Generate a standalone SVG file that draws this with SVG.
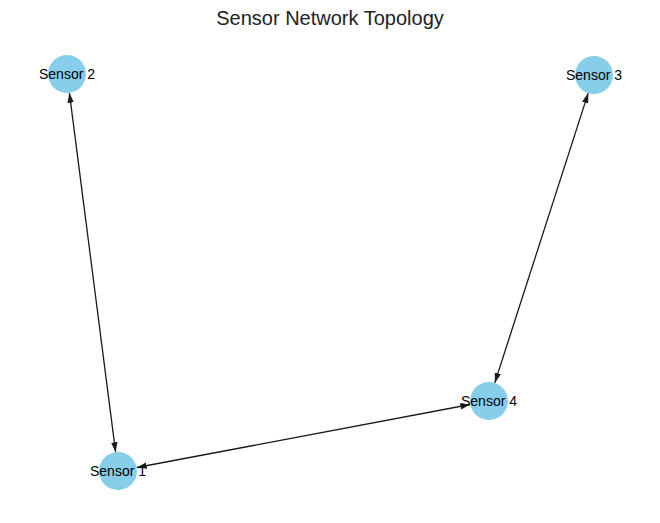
<svg xmlns="http://www.w3.org/2000/svg" width="660" height="523" viewBox="0 0 660 523">
<style>
.node{fill:#87CEEB;}
.lbl{font-family:"Liberation Sans",Arial,sans-serif;font-size:14px;fill:#000;text-anchor:middle;dominant-baseline:central;}
.edge{stroke:#1a1a1a;stroke-width:1.3;fill:none;marker-start:url(#ah);marker-end:url(#ah);}
.title{font-family:"Liberation Sans",Arial,sans-serif;font-size:20px;fill:#222;text-anchor:middle;}
</style>
<defs>
<marker id="ah" markerUnits="userSpaceOnUse" markerWidth="10" markerHeight="8" refX="10" refY="4" orient="auto-start-reverse" viewBox="0 0 10 8">
<path d="M0,0.8 L10,4 L0,7.2 z" fill="#1a1a1a"/>
</marker>
</defs>
<rect width="660" height="523" fill="#fff"/>
<text class="title" x="330" y="25">Sensor Network Topology</text>
<g id="connectors">
<line class="edge" x1="69.4" y1="92.8" x2="115.6" y2="452.2"/>
<line class="edge" x1="136.7" y1="467.5" x2="470.3" y2="404.5"/>
<line class="edge" x1="494.8" y1="382.9" x2="588.2" y2="93.1"/>
</g>
<g id="sensor1"><circle class="node" cx="118" cy="471" r="19"/><text class="lbl" x="118" y="471">Sensor 1</text></g>
<g id="sensor2"><circle class="node" cx="67" cy="74" r="19"/><text class="lbl" x="67" y="74">Sensor 2</text></g>
<g id="sensor3"><circle class="node" cx="594" cy="75" r="19"/><text class="lbl" x="594" y="75">Sensor 3</text></g>
<g id="sensor4"><circle class="node" cx="489" cy="401" r="19"/><text class="lbl" x="489" y="401">Sensor 4</text></g>
</svg>
